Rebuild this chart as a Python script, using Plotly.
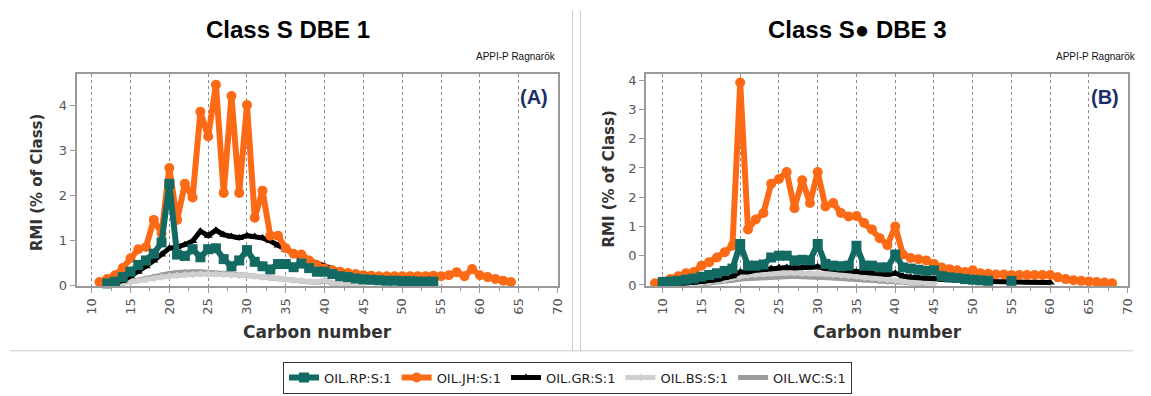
import plotly.graph_objects as go

W, H = 1151, 396

# ---------------- Data: Panel A (Class S DBE 1) ----------------
a_rp_c = list(range(12, 55))
a_rp_v = [0.04, 0.08, 0.18, 0.3, 0.45, 0.55, 0.7, 0.95, 2.25,
          0.68, 0.65, 0.8, 0.62, 0.8, 0.82, 0.58, 0.42, 0.55, 0.78,
          0.52, 0.42, 0.35, 0.47, 0.47, 0.4, 0.48, 0.38, 0.3, 0.3,
          0.25, 0.2, 0.18, 0.15, 0.13, 0.12, 0.11, 0.1, 0.1, 0.09,
          0.09, 0.08, 0.08, 0.08]
a_jh_c = list(range(11, 65))
a_jh_v = [0.07, 0.14, 0.22, 0.38, 0.6, 0.8, 0.85, 1.45, 1.15, 2.6,
          1.45, 2.25, 1.95, 3.85, 3.3, 4.45, 2.05, 4.2, 2.05, 4.0,
          1.5, 2.1, 1.1, 1.1, 0.82, 0.7, 0.68, 0.55, 0.45, 0.37,
          0.33, 0.3, 0.27, 0.25, 0.22, 0.21, 0.2, 0.2, 0.2, 0.2,
          0.2, 0.2, 0.2, 0.21, 0.2, 0.22, 0.29, 0.2, 0.36, 0.22,
          0.18, 0.14, 0.1, 0.07]
a_gr_c = list(range(12, 55))
a_gr_v = [0.02, 0.05, 0.1, 0.2, 0.3, 0.42, 0.55, 0.68, 0.82,
          0.85, 0.9, 0.98, 1.2, 1.1, 1.22, 1.12, 1.08, 1.05, 1.1,
          1.08, 1.05, 0.98, 0.88, 0.78, 0.7, 0.62, 0.55, 0.48, 0.42,
          0.36, 0.3, 0.26, 0.22, 0.18, 0.15, 0.12, 0.1, 0.08, 0.07,
          0.06, 0.05, 0.05, 0.04]
a_bs_c = list(range(13, 46))
a_bs_v = [0.02, 0.05, 0.08, 0.1, 0.12, 0.15, 0.18, 0.2,
          0.22, 0.23, 0.24, 0.25, 0.25, 0.25, 0.24, 0.23, 0.22, 0.22,
          0.2, 0.18, 0.16, 0.15, 0.13, 0.11, 0.1, 0.08, 0.07, 0.12,
          0.05, 0.04, 0.03, 0.03, 0.02]
a_wc_c = list(range(14, 43))
a_wc_v = [0.04, 0.08, 0.12, 0.16, 0.2, 0.23, 0.26,
          0.28, 0.3, 0.3, 0.3, 0.29, 0.28, 0.27, 0.26, 0.24, 0.22,
          0.2, 0.18, 0.16, 0.14, 0.12, 0.1, 0.08, 0.07, 0.06, 0.1,
          0.04, 0.03]

# ---------------- Data: Panel B (Class S• DBE 3) ----------------
b_rp_c = list(range(10, 56))
b_rp_v = [0.05, 0.06, 0.07, 0.09, 0.11, 0.14, 0.17, 0.2, 0.24, 0.28, 0.7,
          0.33, 0.33, 0.35, 0.47, 0.5, 0.5, 0.42, 0.43, 0.42, 0.7,
          0.36, 0.33, 0.32, 0.33, 0.67, 0.33, 0.33, 0.3, 0.3, 0.52,
          0.3, 0.28, 0.26, 0.24, 0.25, 0.15, 0.13, 0.12, 0.1, 0.09,
          0.08, 0.07, None, None, 0.07]
b_jh_c = list(range(9, 69))
b_jh_v = [0.03, 0.06, 0.1, 0.15, 0.2, 0.22, 0.33, 0.39, 0.47, 0.56, 0.67, 3.46,
          0.95, 1.12, 1.23, 1.73, 1.81, 1.93, 1.31, 1.79, 1.4, 1.93,
          1.34, 1.4, 1.23, 1.17, 1.18, 1.06, 0.95, 0.8, 0.68, 1.0,
          0.52, 0.46, 0.44, 0.42, 0.36, 0.3, 0.27, 0.25, 0.22, 0.25,
          0.2, 0.19, 0.18, 0.18, 0.17, 0.17, 0.17, 0.17, 0.17, 0.17,
          0.13, 0.1, 0.08, 0.07, 0.06, 0.05, 0.04, 0.03]
b_gr_c = list(range(12, 61))
b_gr_v = [0.02, 0.03, 0.04, 0.05, 0.07, 0.09, 0.12, 0.15, 0.22,
          0.22, 0.25, 0.26, 0.28, 0.3, 0.3, 0.29, 0.3, 0.3, 0.31,
          0.28, 0.27, 0.25, 0.24, 0.22, 0.21, 0.2, 0.2, 0.18, 0.2,
          0.15, 0.13, 0.12, 0.11, 0.1, 0.09, 0.08, 0.08, 0.07, 0.07,
          0.06, 0.06, 0.06, 0.05, 0.05, 0.05, 0.04, 0.04, 0.04, 0.04]
b_bs_c = list(range(14, 46))
b_bs_v = [0.02, 0.03, 0.05, 0.07, 0.09, 0.12, 0.15,
          0.17, 0.18, 0.19, 0.2, 0.21, 0.21, 0.21, 0.2, 0.2, 0.2,
          0.19, 0.18, 0.17, 0.16, 0.15, 0.13, 0.12, 0.1, 0.09, 0.08,
          0.06, 0.05, 0.04, 0.03, 0.02]
b_wc_c = list(range(15, 45))
b_wc_v = [0.02, 0.03, 0.05, 0.07, 0.08, 0.1,
          0.11, 0.12, 0.13, 0.14, 0.14, 0.15, 0.15, 0.14, 0.14, 0.14,
          0.13, 0.12, 0.11, 0.1, 0.09, 0.08, 0.07, 0.06, 0.05, 0.05,
          0.04, 0.03, 0.02, 0.02]

x_ticks = list(range(10, 75, 5))
a_yticks = [0, 1, 2, 3, 4]
a_yticktext = ["0", "1", "2", "3", "4"]
b_yticks = [0, 0.5, 1, 1.5, 2, 2.5, 3, 3.5]
b_yticktext = ["0", "0", "1", "2", "2", "2", "3", "4"]

series_names = ["OIL.RP:S:1", "OIL.JH:S:1", "OIL.GR:S:1", "OIL.BS:S:1", "OIL.WC:S:1"]
colors = ["#136a63", "#fc6a16", "#000000", "#cfcfcf", "#9b9b9b"]
symbols = ["square", "circle", "triangle-up", "diamond", "circle"]
msizes = [10, 10, 8, 6, 5]
lwidths = [6, 6, 5, 5, 5]

panel_a = [(a_rp_c, a_rp_v), (a_jh_c, a_jh_v), (a_gr_c, a_gr_v), (a_bs_c, a_bs_v), (a_wc_c, a_wc_v)]
panel_b = [(b_rp_c, b_rp_v), (b_jh_c, b_jh_v), (b_gr_c, b_gr_v), (b_bs_c, b_bs_v), (b_wc_c, b_wc_v)]

fig = go.Figure()
draw_order = [4, 3, 2, 1, 0]
for panel_idx, (panel, xa, ya) in enumerate([(panel_a, "x", "y"), (panel_b, "x2", "y2")]):
    for i in draw_order:
        cx, vy = panel[i]
        fig.add_trace(go.Scatter(
            x=cx, y=vy, xaxis=xa, yaxis=ya, mode="lines+markers",
            name=series_names[i], legendgroup=series_names[i],
            showlegend=(panel_idx == 0), legendrank=i + 1,
            line=dict(color=colors[i], width=lwidths[i]),
            marker=dict(color=colors[i], symbol=symbols[i], size=msizes[i]),
            connectgaps=False, cliponaxis=False,
        ))


def fx(px):
    return px / W


def fy(py):
    return 1 - py / H


tick_font = dict(family="DejaVu Sans", size=13, color="#555555")
common_x = dict(range=[8.05, 70.0], tickvals=x_ticks, tickangle=-90, tickfont=tick_font,
                showgrid=True, gridcolor="#8c8c8c", griddash="dot", gridwidth=1,
                showline=True, linecolor="#9a9a9a", linewidth=2, mirror=True,
                ticks="outside", ticklen=5, tickcolor="#9a9a9a", zeroline=False,
                minor=dict(dtick=2.5, ticks="outside", ticklen=3, tickcolor="#9a9a9a", showgrid=False))
common_y = dict(tickfont=tick_font, showgrid=False, zeroline=False,
                showline=True, linecolor="#9a9a9a", linewidth=2, mirror=True,
                ticks="outside", ticklen=5, tickcolor="#9a9a9a")

fig.update_layout(
    width=W, height=H,
    margin=dict(l=0, r=0, t=0, b=0),
    paper_bgcolor="white", plot_bgcolor="white",
    xaxis=dict(domain=[fx(77), fx(561)], anchor="y", **common_x),
    yaxis=dict(domain=[fy(291), fy(74)], anchor="x", range=[-0.02, 4.70],
               tickvals=a_yticks, ticktext=a_yticktext, **common_y),
    xaxis2=dict(domain=[fx(650), fx(1135)], anchor="y2", **{**common_x, "range": [7.85, 70.05]}),
    yaxis2=dict(domain=[fy(291), fy(74)], anchor="x2", range=[-0.02, 3.615],
                tickvals=b_yticks, ticktext=b_yticktext, **common_y),
    legend=dict(orientation="h", x=fx(571), xanchor="center", y=fy(368), yanchor="top",
                bordercolor="#333333", borderwidth=1, bgcolor="white",
                font=dict(family="DejaVu Sans", size=13, color="#222222"),
                traceorder="normal", itemwidth=30),
    showlegend=True,
)

ann = []
title_font = dict(family="Liberation Sans, Arial", size=24, color="#000000")
ann.append(dict(text="<b>Class S DBE 1</b>", x=fx(290), y=fy(29), font=title_font))
ann.append(dict(text="<b>Class S\u25cf DBE 3</b>", x=fx(863), y=fy(29), font=title_font))
small = dict(family="Liberation Sans, Arial", size=10, color="#111111")
ann.append(dict(text="APPI-P Ragnarök", x=fx(561), y=fy(57), xanchor="right", font=small))
ann.append(dict(text="APPI-P Ragnarök", x=fx(1145), y=fy(57), xanchor="right", font=small))
lab = dict(family="Liberation Sans, Arial", size=20, color="#1b2f6a")
ann.append(dict(text="<b>(A)</b>", x=fx(537), y=fy(98), font=lab))
ann.append(dict(text="<b>(B)</b>", x=fx(1112), y=fy(98), font=lab))
axt = dict(family="DejaVu Sans", size=17, color="#333333")
ann.append(dict(text="<b>Carbon number</b>", x=fx(319), y=fy(338), font=axt))
ann.append(dict(text="<b>Carbon number</b>", x=fx(893), y=fy(338), font=axt))
ayt = dict(family="DejaVu Sans", size=15, color="#333333")
ann.append(dict(text="<b>RMI (% of Class)</b>", x=fx(37), y=fy(185), textangle=-90, font=ayt))
ann.append(dict(text="<b>RMI (% of Class)</b>", x=fx(613), y=fy(182), textangle=-90, font=ayt))
for a in ann:
    a.setdefault("xanchor", "center")
    a.update(xref="paper", yref="paper", yanchor="middle", showarrow=False)
fig.update_layout(annotations=ann)

# light panel separators
border = dict(color="#cccccc", width=1)
fig.add_shape(type="line", xref="paper", yref="paper", x0=fx(576), x1=fx(576), y0=fy(10), y1=fy(357), line=border)
fig.add_shape(type="line", xref="paper", yref="paper", x0=fx(584), x1=fx(584), y0=fy(10), y1=fy(357), line=border)
fig.add_shape(type="line", xref="paper", yref="paper", x0=fx(10), x1=fx(1140), y0=fy(357), y1=fy(357), line=border)

fig.write_html("out.html", config={"displayModeBar": False},
               post_script="document.body.style.margin='0';document.body.style.overflow='hidden';")
